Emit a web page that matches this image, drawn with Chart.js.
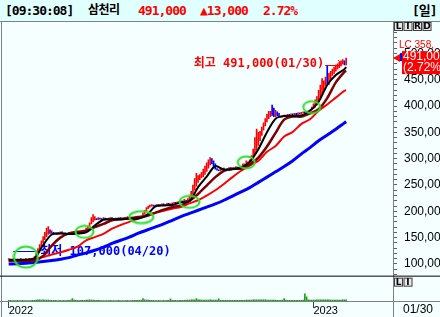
<!DOCTYPE html>
<html>
<head>
<meta charset="utf-8">
<script src="https://cdn.jsdelivr.net/npm/chart.js@4.4.0/dist/chart.umd.min.js"></script>
<style>
html, body { margin: 0; padding: 0; background: #f5ffff; }
#wrap { position: relative; width: 440px; height: 317px; overflow: hidden; background: #f5ffff; }
#head { position: absolute; left: 0; top: 0; width: 440px; height: 21px; background: #e0ffff; border-bottom: 1px solid #808080;
        font: bold 13px "DejaVu Sans Mono", "Noto Sans CJK KR", monospace; letter-spacing: -1px; color: #000; }
#head span { position: absolute; top: 3px; white-space: nowrap; line-height: 15px; }
#head .up { color: #ff0000; }
#head .kr { font-size: 12px; letter-spacing: -0.5px; }
#chart { position: absolute; left: 0; top: 22px; }
</style>
</head>
<body>
<div id="wrap">
  <div id="head">
    <span id="hTime" style="left:5px"></span>
    <span id="hName" class="kr" style="left:88px"></span>
    <span id="hPrice" class="up" style="left:138px"></span>
    <span id="hChange" class="up" style="left:200px"></span>
    <span id="hPct" class="up" style="left:263px"></span>
    <span id="hPeriod" style="left:412px"></span>
  </div>
  <canvas id="chart" width="440" height="295"></canvas>
</div>
<script>
// ---- data (prices in thousand won) ----
const stockName = '삼천리';
const quoteTime = '09:30:08';
const periodLabel = '일';
const lcLabel = 'LC 358,';
const lowDate = '04/20';
const highDate = '01/30';
const lastDate = '01/30';

const yearLabels = ['2022', '2023'];
const yearIdx = [0, 177];

const closes = [
    109,108,108,109,108,107,108,109,108,108,109,108,109,108,110,113,
    118,126,133,140,146,152,156,160,158,159,
    157,158,156,159,160,157,158,156,157,159,158,157,159,160,158,157,158,161,163,166,
    170,176,180,183,185,184,186,185,184,186,
    185,184,186,187,185,184,186,185,187,186,185,187,186,188,186,185,187,186,188,187,189,188,
    195,200,205,208,210,211,210,
    211,212,210,212,213,211,212,214,213,212,215,216,215,217,218,219,218,220,219,221,
    225,232,240,248,255,260,264,266,270,276,282,288,292,290,285,280,
    278,277,280,281,279,278,280,282,281,279,280,283,282,281,284,286,288,290,292,295,
    300,308,316,325,334,344,354,362,370,376,380,383,382,380,384,381,380,
    379,381,382,380,383,381,384,382,385,383,386,385,387,388,386,389,390,392,
    395,398,402,408,415,422,430,438,446,441,452,458,462,466,470,473,476,480,482,478,491
];

const highs = [
    110,109,109,110,109,108,109,110,109,109,110,109,110,109,111,114,
    120,129,137,144,152,160,168,171,165,163,
    160,159,159,160,161,161,159,159,158,160,160,159,160,163,161,159,159,162,164,168,
    172,178,188,194,190,186,188,187,186,188,
    187,186,187,188,188,186,187,187,188,188,187,188,188,190,189,187,188,188,189,189,190,190,
    197,202,207,210,212,213,212,
    212,213,213,213,214,214,213,215,215,214,216,217,217,218,219,220,220,223,221,224,
    229,238,250,262,272,268,270,274,280,286,292,298,302,300,296,290,
    281,279,281,282,282,280,281,283,283,282,281,285,284,283,286,290,290,296,294,298,
    306,318,340,356,350,352,360,368,376,384,390,390,402,396,392,389,386,
    381,382,383,383,384,384,385,385,386,386,387,387,388,389,389,390,391,393,
    398,404,412,418,430,440,452,448,455,476,462,466,470,474,478,480,483,486,488,486,491
];

const volumes = [
    30,26,24,22,25,28,24,22,26,24,22,25,23,24,28,35,48,55,50,45,
    52,48,44,38,36,30,28,26,24,25,27,24,26,25,28,30,45,110,40,28,
    26,25,27,30,34,38,42,50,46,40,34,30,28,26,25,24,23,25,24,26,
    24,23,25,24,26,25,24,23,25,26,24,25,27,26,28,30,34,40,110,52,
    45,38,32,28,26,25,24,26,25,24,27,25,26,28,100,35,28,26,25,27,
    30,32,36,40,44,48,52,56,58,110,55,50,46,44,42,45,48,50,46,44,
    42,40,100,36,32,30,28,27,26,28,27,26,28,30,29,31,34,36,38,40,
    44,48,52,55,58,60,56,54,52,50,48,46,44,42,40,38,36,34,35,40,
    110,38,34,32,30,31,29,30,32,31,34,40,340,200,60,48,44,46,48,50,
    52,55,58,56,54,52,50,48,47,46,45,44,46,48,50,52,55
];

// moving averages at these day indices
const maIdx = [0,5,10,15,20,25,30,35,40,45,50,55,60,65,70,75,80,85,90,95,100,
               105,110,115,120,125,130,135,140,145,150,155,160,165,170,175,180,185,190,195,196];
const ma5 = [108,108,108,111,136,156,158,157,158,160,173,184,185,185,186,186,192,209,211,212,217,
             219,246,266,286,279,280,283,294,318,350,376,381,381,382,391,408,440,459,470,474];
const ma20 = [106,106,106,107,115,135,150,158,161,163,170,176,183,185,187,189,191,197,203,208,211,
              220,233,249,265,277,281,281,289,302,323,349,374,380,380,386,394,415,445,465,467];
const ma60 = [105,106,108,110,113,118,122,127,133,145,151,157,167,174,180,186,193,197,201,205,208,
              215,221,230,240,252,265,277,287,296,313,324,342,351,366,375,391,403,416,429,430];
const ma120 = [100,100.5,101.5,103,104.5,106.5,109,112,117,121,126,132,139,145,151,158,164,170,176,183,190,
               196,202,208,214,221,229,237,245,255,265,275,285,296,309,321,334,345,356,368,370];

// signal marks (green rings)
const ringIdx = [10, 44, 77, 105, 138, 176];
const ringVal = [113, 161, 189, 218, 293, 398];

// ---- derived ----
const N = closes.length;
const opens = closes.map((c, i) => i === 0 ? c : closes[i - 1]);
const lows = closes.map((c, i) => Math.min(c, opens[i]));
const fmt = v => Math.round(v * 1000).toLocaleString('en-US');

let lowIdx = 0, highIdx = 0;
lows.forEach((v, i) => { if (v < lows[lowIdx]) lowIdx = i; });
highs.forEach((v, i) => { if (v >= highs[highIdx]) highIdx = i; });

const lastPrice = closes[N - 1];
const change = lastPrice - closes[N - 2];
const pct = (change / closes[N - 2] * 100).toFixed(2);

document.getElementById('hTime').textContent = '[' + quoteTime + ']';
document.getElementById('hName').textContent = stockName;
document.getElementById('hPrice').textContent = fmt(lastPrice);
document.getElementById('hChange').textContent = (change >= 0 ? '▲' : '▼') + fmt(Math.abs(change));
document.getElementById('hPct').textContent = pct + '%';
document.getElementById('hPeriod').textContent = '[' + periodLabel + ']';

const ringSizes = [[25, 22], [19, 13], [25, 13], [21, 13], [18, 13], [18, 13]];
function ring(w, h) {
    const c = document.createElement('canvas');
    c.width = w + 2;
    c.height = h + 2;
    const g = c.getContext('2d');
    g.strokeStyle = '#2ee02e';
    g.lineWidth = 2;
    g.beginPath();
    g.ellipse(c.width / 2, c.height / 2, w / 2 - 0.5, h / 2 - 0.5, 0, 0, Math.PI * 2);
    g.stroke();
    return c;
}

function maLine(arr, color, width, order) {
    return {
        type: 'line',
        data: maIdx.map((d, k) => ({ x: d, y: arr[k] })),
        borderColor: color,
        borderWidth: width,
        pointRadius: 0,
        tension: 0.3,
        yAxisID: 'y',
        order: order
    };
}

const KR_MONO = '"DejaVu Sans Mono", "Noto Sans CJK KR", monospace';

const decor = {
    id: 'decor',
    beforeDraw(chart) {
        const { ctx, width, height } = chart;
        ctx.save();
        ctx.fillStyle = '#f5ffff';
        ctx.fillRect(0, 0, width, height);
        ctx.restore();
    },
    beforeDatasetsDraw(chart) {
        const { ctx, scales: { x, y } } = chart;
        ctx.save();
        ctx.font = 'bold 12px ' + KR_MONO;
        ctx.textBaseline = 'middle';
        ctx.lineWidth = 1;

        // lowest
        const xl = x.getPixelForValue(lowIdx), yl = y.getPixelForValue(lows[lowIdx]);
        ctx.strokeStyle = ctx.fillStyle = '#0000ff';
        ctx.beginPath();
        ctx.moveTo(xl - 4, Math.round(yl - 9) + 0.5);
        ctx.lineTo(xl + 21, Math.round(yl - 9) + 0.5);
        ctx.stroke();
        ctx.textAlign = 'left';
        ctx.fillText('최저 ' + fmt(lows[lowIdx]) + '(' + lowDate + ')', xl + 23, yl - 8);

        // highest
        const xh = x.getPixelForValue(highIdx), yh = y.getPixelForValue(highs[highIdx]);
        ctx.strokeStyle = ctx.fillStyle = '#ff0000';
        ctx.textAlign = 'right';
        ctx.fillText('최고 ' + fmt(highs[highIdx]) + '(' + highDate + ')', xh - 22, yh + 6);
        ctx.beginPath();
        ctx.moveTo(xh - 21, Math.round(yh + 7) + 0.5);
        ctx.lineTo(xh - 5, Math.round(yh + 7) + 0.5);
        ctx.moveTo(xh - 8, yh + 2);
        ctx.lineTo(xh - 4, yh + 7);
        ctx.stroke();
        ctx.restore();
    },
    afterDraw(chart) {
        const { ctx, width, height, scales: { x, y, yv } } = chart;
        ctx.save();

        // frame lines
        ctx.lineWidth = 1;
        ctx.strokeStyle = '#808080';
        ctx.beginPath();
        ctx.moveTo(1.5, 0); ctx.lineTo(1.5, height);
        ctx.moveTo(0, x.top + 0.5); ctx.lineTo(width, x.top + 0.5);
        ctx.moveTo(y.left + 0.5, 0); ctx.lineTo(y.left + 0.5, height);
        ctx.stroke();
        ctx.strokeStyle = '#000000';
        ctx.beginPath();
        ctx.moveTo(0, y.bottom + 0.5); ctx.lineTo(width, y.bottom + 0.5);
        ctx.stroke();

        // small buttons
        function buttons(letters, left, top) {
            ctx.font = 'bold 9px "DejaVu Sans", sans-serif';
            ctx.textAlign = 'center';
            ctx.textBaseline = 'middle';
            letters.forEach((l, k) => {
                const bx = left + k * 9.5;
                ctx.fillStyle = '#e8e8e8';
                ctx.fillRect(bx, top, 9, 9);
                ctx.strokeStyle = '#404040';
                ctx.strokeRect(bx + 0.5, top + 0.5, 8, 8);
                ctx.fillStyle = '#000';
                ctx.fillText(l, bx + 4.5, top + 5);
            });
        }
        buttons(['L', 'I', 'R', 'D'], y.left + 1, 0);
        buttons(['L', 'I'], y.left + 1, yv.top + 2);

        // last price tag
        const yp = y.getPixelForValue(lastPrice);
        ctx.fillStyle = '#ff0000';
        ctx.font = '10px "Liberation Sans", sans-serif';
        ctx.textAlign = 'left';
        ctx.textBaseline = 'middle';
        ctx.fillText(lcLabel, y.left + 6, yp - 13);
        ctx.beginPath();
        ctx.moveTo(y.left, yp);
        ctx.lineTo(y.left + 7, yp - 4);
        ctx.lineTo(y.left + 7, yp + 4);
        ctx.closePath();
        ctx.fill();
        ctx.fillStyle = '#0000ff';
        ctx.fillRect(y.left + 7, yp - 5, 2, 8);
        ctx.fillStyle = '#ff0000';
        ctx.fillRect(y.left + 9, yp - 7, width - y.left - 9, 23);
        ctx.fillStyle = '#ffffff';
        ctx.font = '12px "Liberation Sans", sans-serif';
        ctx.fillText(fmt(lastPrice), y.left + 10, yp - 1);
        ctx.fillText('(' + pct + '%)', y.left + 10, yp + 10);

        // last date under the price axis
        ctx.fillStyle = '#000';
        ctx.fillText(lastDate, y.left + 10, x.top + 9);
        ctx.restore();
    }
};

const ctx = document.getElementById('chart').getContext('2d');
new Chart(ctx, {
    type: 'bar',
    data: {
        datasets: [
            {
                type: 'scatter',
                data: ringIdx.map((d, k) => ({ x: d, y: ringVal[k] })),
                pointStyle: ringSizes.map(s => ring(s[0], s[1])),
                pointRadius: 6,
                yAxisID: 'y',
                order: 0
            },
            maLine(ma5, '#000000', 2, 1),
            maLine(ma20, '#800000', 2.5, 2),
            maLine(ma60, '#ff0000', 2, 3),
            maLine(ma120, '#0000ff', 3, 4),
            {
                type: 'bar',
                data: closes.map((c, i) => ({ x: i, y: [lows[i], highs[i]] })),
                backgroundColor: closes.map((c, i) => c >= opens[i] ? '#ff0000' : '#0000ff'),
                barThickness: 1,
                grouped: false,
                borderWidth: 0,
                yAxisID: 'y',
                order: 10
            },
            {
                type: 'bar',
                data: volumes.map((v, i) => ({ x: i, y: v })),
                backgroundColor: '#1e9e1e',
                barThickness: 1,
                grouped: false,
                borderWidth: 0,
                yAxisID: 'yv',
                order: 11
            }
        ]
    },
    options: {
        responsive: false,
        animation: false,
        devicePixelRatio: 1,
        layout: { padding: { left: 3, right: 0, top: 0, bottom: 0 } },
        plugins: {
            legend: { display: false },
            tooltip: { enabled: false }
        },
        scales: {
            x: {
                type: 'linear',
                min: -0.98,
                max: 223.2,
                offset: false,
                afterBuildTicks: s => { s.ticks = yearIdx.map(v => ({ value: v })); },
                afterFit: s => { s.height = 16; s.paddingLeft = 0; s.paddingRight = 0; },
                ticks: {
                    autoSkip: false,
                    maxRotation: 0,
                    align: 'start',
                    padding: -4,
                    color: '#000',
                    font: { family: 'Liberation Sans', size: 11 },
                    callback: (v, i) => yearLabels[i]
                },
                grid: { offset: false, drawOnChartArea: false, drawTicks: true, tickLength: 7, color: '#404040' },
                border: { color: '#808080' }
            },
            y: {
                type: 'linear',
                position: 'right',
                stack: 'panes',
                stackWeight: 253,
                min: 77.8,
                max: 546.3,
                afterBuildTicks: s => {
                    const t = [];
                    for (let v = 80; v <= 540; v += 10) t.push({ value: v });
                    s.ticks = t;
                },
                afterFit: s => { s.width = 47; s.paddingTop = 0; s.paddingBottom = 0; },
                ticks: {
                    autoSkip: false,
                    padding: 7,
                    color: '#000',
                    font: { family: 'Liberation Sans', size: 12 },
                    callback: v => v % 50 === 0 ? fmt(v) : ''
                },
                grid: { drawOnChartArea: false, tickLength: 4, color: '#606060' },
                border: { color: '#808080' }
            },
            yv: {
                type: 'linear',
                position: 'right',
                stack: 'panes',
                stackWeight: 26,
                min: 0,
                max: 1200,
                afterFit: s => { s.width = 47; s.paddingTop = 0; s.paddingBottom = 0; },
                ticks: { display: false },
                grid: { display: false },
                border: { color: '#808080' }
            }
        }
    },
    plugins: [decor]
});
</script>
</body>
</html>
